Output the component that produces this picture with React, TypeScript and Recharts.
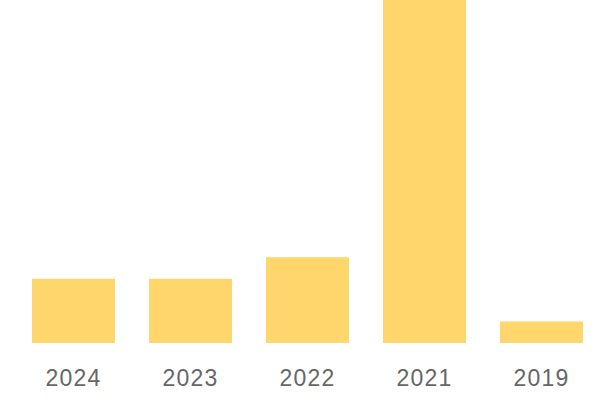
import React from 'react';
import { BarChart, Bar, XAxis, YAxis } from 'recharts';

const years = ['2024', '2023', '2022', '2021', '2019'];
const counts = [3, 3, 4, 16, 1];

const data = years.map((year, i) => ({ year, count: counts[i] }));

export default function App() {
  return (
    <div style={{ position: 'absolute', left: 0, top: 0, width: 600, height: 400, background: '#fff' }}>
      <BarChart
        width={600}
        height={400}
        data={data}
        margin={{ top: 0, right: 0, left: 15, bottom: 0 }}
        barCategoryGap={17}
      >
        <XAxis
          dataKey="year"
          height={57}
          axisLine={false}
          tickLine={false}
          tickSize={0}
          tickMargin={27}
          interval={0}
          tick={{ fill: '#666666', fontSize: 23, fontFamily: 'Liberation Sans', letterSpacing: 1.2 }}
        />
        <YAxis hide domain={[0, 16]} />
        <Bar dataKey="count" fill="#FFD66B" isAnimationActive={false} />
      </BarChart>
    </div>
  );
}
